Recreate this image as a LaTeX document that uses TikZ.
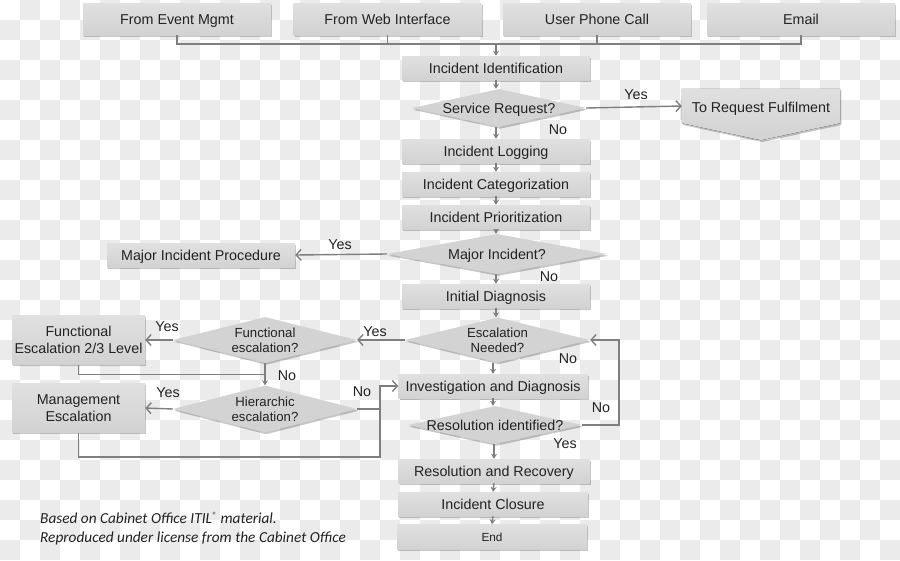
\documentclass[tikz,border=0pt]{standalone}
\usepackage{fontspec}
\setmainfont{Liberation Sans}
\newfontfamily\carl{Carlito}
\usetikzlibrary{arrows.meta,shapes.geometric,shadows,calc}
\definecolor{boxtop}{HTML}{E0E0E0}
\definecolor{boxbot}{HTML}{D2D2D2}
\definecolor{diafill}{HTML}{D3D3D3}
\definecolor{linec}{HTML}{7F7F7F}
\definecolor{txt}{HTML}{222222}
\definecolor{chk}{HTML}{EBEBEB}
\begin{document}
\begin{tikzpicture}[x=1pt,y=-1pt,
  font=\fontsize{14.3}{16.5}\selectfont, text=txt,
  shad/.style={drop shadow={shadow xshift=1.2pt,shadow yshift=-1.8pt,opacity=0.22,fill=black}},
  box/.style={rectangle, inner sep=0pt, top color=boxtop, bottom color=boxbot, shad,
    minimum width=188pt, minimum height=24pt, align=center, text depth=0pt},
  sbox/.style={box, text height=10.5pt},
  topbox/.style={sbox, minimum height=32pt},
  dia/.style={diamond, inner sep=0pt, fill=diafill, shad},
  dtext/.style={font=\fontsize{13.2}{15.5}\selectfont, text=txt, align=center, text depth=0pt},
  conn/.style={draw=linec, line width=1.4pt},
  arrS/.style={conn, -{Stealth[length=5pt,width=6pt]}},
  arrB/.style={conn, -{Straight Barb[length=5pt,width=11pt]}},
  lab/.style={font=\fontsize{14.3}{16.5}\selectfont, text=txt, inner sep=0pt}
]
\useasboundingbox (0,0) rectangle (900,560);
% checkerboard background
\fill[white] (0,0) rectangle (900,560);
\foreach \i in {0,...,44} {
  \foreach \j in {0,...,27} {
    \pgfmathtruncatemacro{\odd}{mod(\i+\j,2)}
    \ifnum\odd=1 \fill[chk] (\i*20,\j*20) rectangle ++(20,20);\fi
  }
}

% top row
\node[topbox] (ev) at (177,19) {From Event Mgmt};
\node[topbox] (web) at (387.5,19) {From Web Interface};
\node[topbox] (ph) at (597,19) {User Phone Call};
\node[topbox] (em) at (801,19) {Email};
\coordinate (bus) at (0,44);

% main column
\node[sbox] (ii) at (496,68) {Incident Identification};
\node[dia, minimum width=174pt, minimum height=38pt,
  label={[dtext,font=\fontsize{14.3}{16.5}\selectfont]center:Service Request?}] (sr) at (499,108) {};
\node[rectangle, inner sep=0pt, minimum width=158pt, minimum height=34pt] (rf) at (761,106) {};
\fill[top color=boxtop, bottom color=boxbot, shad]
  (rf.north west) -- (rf.north east) -- (rf.south east) -- ($(rf.south)+(0,17)$) -- (rf.south west) -- cycle;
\node[lab, text depth=0pt] (rft) at ([yshift=-1pt]rf.center) {To Request Fulfilment};
\node[sbox] (log) at (496,151) {Incident Logging};
\node[sbox] (cat) at (496,184) {Incident Categorization};
\node[sbox] (pri) at (496,217) {Incident Prioritization};
\node[dia, minimum width=220pt, minimum height=40pt,
  label={[dtext,font=\fontsize{14.3}{16.5}\selectfont]center:Major Incident?}] (mi) at (497,254) {};
\node[sbox] (mip) at (201,255) {Major Incident Procedure};
\node[sbox] (id) at (496,296) {Initial Diagnosis};
\node[dia, minimum width=185pt, minimum height=45pt,
  label={[dtext]center:Escalation\\Needed?}] (en) at (497.5,340) {};
\node[dia, minimum width=184pt, minimum height=46pt,
  label={[dtext]center:Functional\\escalation?}] (fe) at (265,340) {};
\node[box, minimum width=133pt, minimum height=49pt] (feb) at (78.5,340) {Functional\\Escalation 2/3 Level};
\node[dia, minimum width=184pt, minimum height=47pt,
  label={[dtext]center:Hierarchic\\escalation?}] (he) at (265,409) {};
\node[box, minimum width=133pt, minimum height=49pt] (me) at (78.5,408) {Management\\Escalation};
\node[sbox, minimum width=189pt] (inv) at (493,386) {Investigation and Diagnosis};
\node[dia, minimum width=174pt, minimum height=38pt,
  label={[dtext,font=\fontsize{14.3}{16.5}\selectfont]center:Resolution identified?}] (ri) at (495,425) {};
\node[sbox, minimum width=191pt] (rr) at (494,471) {Resolution and Recovery};
\node[sbox, minimum width=190pt] (ic) at (493,504) {Incident Closure};
\node[box, minimum width=190pt, minimum height=25pt, font=\fontsize{11.8}{14}\selectfont] (end) at (492,537) {End};

\coordinate (jt) at (380,386);
\coordinate (jb) at (380,457);
\coordinate (rx) at (619,340);

% connectors
\draw[conn] (ev.south) -- (ev.south |- bus) -- (em.south |- bus) -- (em.south);
\draw[conn] (web.south) -- (web.south |- bus);
\draw[conn] (ph.south) -- (ph.south |- bus);
\draw[arrS] (ii.north |- bus) -- (ii.north);
\draw[arrS] (ii.south) -- (ii.south |- sr.north);
\draw[arrB] (sr.east) -- (rf.west);
\draw[arrS] (sr.south -| log.north) -- (log.north);
\draw[arrS] (log.south) -- (cat.north);
\draw[arrS] (cat.south) -- (pri.north);
\draw[arrS] (pri.south) -- (pri.south |- mi.north);
\draw[arrB] (mi.west) -- (mip.east);
\draw[arrS] (mi.south -| id.north) -- (id.north);
\draw[arrS] (id.south) -- (id.south |- en.north);
\draw[arrB] (en.west) -- (fe.east);
\draw[arrB] (fe.west) -- (feb.east);
\draw[arrS] (fe.south) -- (he.north);
\draw[conn] (feb.south) |- ($(fe.south)!0.5!(he.north)$);
\draw[arrB] (he.west) -- (me.east);
\draw[arrB] (he.east) -| (jt) -- (inv.west);
\draw[conn] (me.south) |- (jb) -- (jb |- he.east);
\draw[arrS] (en.south -| inv.north) -- (inv.north);
\draw[arrS] (inv.south) -- (inv.south |- ri.north);
\draw[arrB] (ri.east) -| (rx) -- (en.east);
\draw[arrS] (ri.south -| rr.north) -- (rr.north);
\draw[arrS] (rr.south) -- (ic.north);
\draw[arrS] (ic.south) -- (end.north);

% labels
\node[lab] (y1) at (636,95) {Yes};
\node[lab] (n1) at (558,130) {No};
\node[lab] (y2) at (340,245) {Yes};
\node[lab] (n2) at (549,277) {No};
\node[lab] (y3) at (375,332) {Yes};
\node[lab] (n3) at (568,359) {No};
\node[lab] (y4) at (167,327) {Yes};
\node[lab] (n4) at (287,376) {No};
\node[lab] (y5) at (168,393) {Yes};
\node[lab] (n5) at (362,392) {No};
\node[lab] (n6) at (601,408) {No};
\node[lab] (y6) at (565,444) {Yes};

% footer
\node[anchor=north west, inner sep=0pt, align=left, text=txt,
  font=\carl\itshape\fontsize{15.3}{19}\selectfont] (foot) at (40,512)
  {Based on Cabinet Office ITIL\textsuperscript{\fontsize{9}{9}\selectfont ®} material.\\Reproduced under license from the Cabinet Office};
\end{tikzpicture}
\end{document}
